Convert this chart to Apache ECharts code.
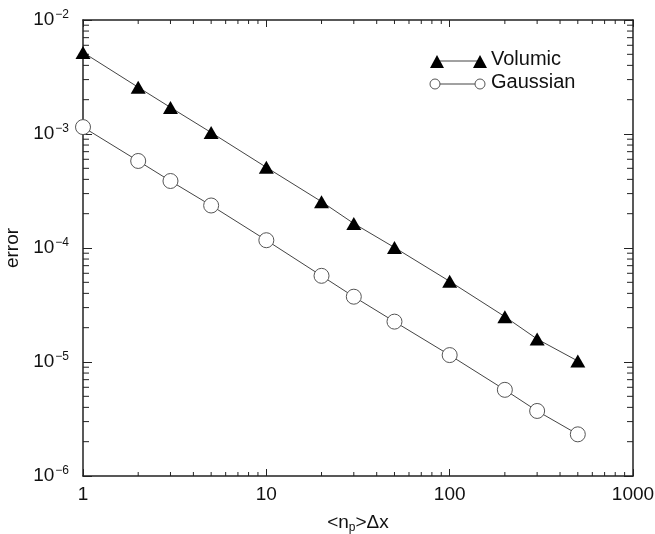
<!DOCTYPE html>
<html>
<head>
<meta charset="utf-8">
<style>
  html, body { margin: 0; padding: 0; background: #fff; }
  #chart { width: 655px; height: 534px; }
</style>
<script src="https://cdn.jsdelivr.net/npm/echarts@6/dist/echarts.min.js"></script>
</head>
<body>
<div id="chart"></div>
<script>
// Mean particle spacing, <n_p>Δx
const spacing = [1, 2, 3, 5, 10, 20, 30, 50, 100, 200, 300, 500];

// Error for each kernel
const volumic = [5.2e-3, 2.57e-3, 1.71e-3, 1.03e-3, 5.1e-4, 2.55e-4, 1.64e-4, 1.01e-4, 5.1e-5, 2.5e-5, 1.59e-5, 1.02e-5];
const gaussian = [1.15e-3, 5.8e-4, 3.87e-4, 2.36e-4, 1.17e-4, 5.7e-5, 3.74e-5, 2.26e-5, 1.15e-5, 5.7e-6, 3.72e-6, 2.32e-6];

// Axis ranges and tick values
const xRange = [1, 1000];
const yRange = [1e-6, 1e-2];
const xMinorTicks = [2, 3, 4, 5, 6, 7, 8, 9, 20, 30, 40, 50, 60, 70, 80, 90, 200, 300, 400, 500, 600, 700, 800, 900];
const yMinorTicks = [2e-6, 3e-6, 4e-6, 5e-6, 6e-6, 7e-6, 8e-6, 9e-6,
                     2e-5, 3e-5, 4e-5, 5e-5, 6e-5, 7e-5, 8e-5, 9e-5,
                     2e-4, 3e-4, 4e-4, 5e-4, 6e-4, 7e-4, 8e-4, 9e-4,
                     2e-3, 3e-3, 4e-3, 5e-3, 6e-3, 7e-3, 8e-3, 9e-3];

const seriesNames = ['Volumic', 'Gaussian'];
const FONT = '"Liberation Sans", Arial, Helvetica, sans-serif';
const INK = '#111';
const AXIS = '#222';
const LINE = '#444';

const chart = echarts.init(document.getElementById('chart'), null, { renderer: 'canvas' });

function pairs(xs, ys) { return xs.map((x, i) => [x, ys[i]]); }

function powLabel(v) {
  const e = Math.round(Math.log10(v));
  return '{b|10}{s|' + (e < 0 ? '\u2212' + (-e) : e) + '}';
}

function plainLabel(v) { return String(Math.round(v)); }

const axisLineStyle = { show: true, lineStyle: { color: AXIS, width: 1.5 } };

// Short inside ticks at the 2..9 positions of each decade, on all four sides
function minorTickRenderer(dir) {
  return function (params, api) {
    const v = api.value(0);
    const len = dir === 'x' ? 4 : 6;
    const style = { stroke: AXIS, lineWidth: 1 };
    if (dir === 'x') {
      const b = api.coord([v, yRange[0]]);
      const t = api.coord([v, yRange[1]]);
      return { type: 'group', children: [
        { type: 'line', shape: { x1: b[0], y1: b[1], x2: b[0], y2: b[1] - len }, style },
        { type: 'line', shape: { x1: t[0], y1: t[1], x2: t[0], y2: t[1] + len }, style }
      ]};
    }
    const l = api.coord([xRange[0], v]);
    const r = api.coord([xRange[1], v]);
    return { type: 'group', children: [
      { type: 'line', shape: { x1: l[0], y1: l[1], x2: l[0] + len, y2: l[1] }, style },
      { type: 'line', shape: { x1: r[0], y1: r[1], x2: r[0] - len, y2: r[1] }, style }
    ]};
  };
}

const option = {
  backgroundColor: '#fff',
  animation: false,
  grid: { left: 83, right: 22, top: 20, bottom: 58, containLabel: false, outerBoundsMode: 'none' },
  xAxis: [
    {
      type: 'log', logBase: 10, min: xRange[0], max: xRange[1],
      position: 'bottom',
      name: '{t|<n}{sub|p}{t|>\u0394x}',
      nameLocation: 'middle', nameGap: 36,
      nameTextStyle: {
        rich: {
          t: { fontFamily: FONT, fontSize: 19, color: INK },
          sub: { fontFamily: FONT, fontSize: 12, color: INK, padding: [10, 0, 0, 0] }
        }
      },
      axisLine: axisLineStyle,
      axisTick: { show: true, inside: true, length: 7, lineStyle: { color: AXIS, width: 1 } },
      axisLabel: { show: true, margin: 9, formatter: plainLabel, fontFamily: FONT, fontSize: 19, color: INK },
      splitLine: { show: false }
    },
    {
      type: 'log', logBase: 10, min: xRange[0], max: xRange[1],
      position: 'top',
      axisLine: axisLineStyle,
      axisTick: { show: true, inside: true, length: 7, lineStyle: { color: AXIS, width: 1 } },
      axisLabel: { show: false },
      splitLine: { show: false }
    }
  ],
  yAxis: [
    {
      type: 'log', logBase: 10, min: yRange[0], max: yRange[1],
      position: 'left',
      name: 'error',
      nameLocation: 'middle', nameGap: 57, nameRotate: 90,
      nameTextStyle: { fontFamily: FONT, fontSize: 19, color: INK },
      axisLine: axisLineStyle,
      axisTick: { show: true, inside: true, length: 9, lineStyle: { color: AXIS, width: 1 } },
      axisLabel: {
        show: true, margin: 14, formatter: powLabel,
        rich: {
          b: { fontFamily: FONT, fontSize: 19, color: INK, lineHeight: 22 },
          s: { fontFamily: FONT, fontSize: 12, color: INK, lineHeight: 22, padding: [0, 0, 11, 1] }
        }
      },
      splitLine: { show: false }
    },
    {
      type: 'log', logBase: 10, min: yRange[0], max: yRange[1],
      position: 'right',
      axisLine: axisLineStyle,
      axisTick: { show: true, inside: true, length: 9, lineStyle: { color: AXIS, width: 1 } },
      axisLabel: { show: false },
      splitLine: { show: false }
    }
  ],
  series: [
    {
      name: seriesNames[0], type: 'line',
      data: pairs(spacing, volumic),
      xAxisIndex: 0, yAxisIndex: 0,
      lineStyle: { color: LINE, width: 1 },
      symbol: 'triangle', symbolSize: [15, 13],
      itemStyle: { color: '#000', borderWidth: 0 },
      z: 3
    },
    {
      name: seriesNames[1], type: 'line',
      data: pairs(spacing, gaussian),
      xAxisIndex: 0, yAxisIndex: 0,
      lineStyle: { color: LINE, width: 1 },
      symbol: 'circle', symbolSize: 15,
      itemStyle: { color: '#fff', borderColor: '#555', borderWidth: 1 },
      z: 3
    },
    {
      type: 'custom', xAxisIndex: 0, yAxisIndex: 0,
      data: xMinorTicks.map(v => [v]),
      renderItem: minorTickRenderer('x'), silent: true, clip: false, z: 2
    },
    {
      type: 'custom', xAxisIndex: 0, yAxisIndex: 0,
      data: yMinorTicks.map(v => [v]),
      renderItem: minorTickRenderer('y'), silent: true, clip: false, z: 2
    }
  ],
  graphic: [
    // Key: line with a marker at each end, then the series name
    { type: 'line', shape: { x1: 437, y1: 61, x2: 480, y2: 61 }, style: { stroke: LINE, lineWidth: 1 } },
    { type: 'polygon', shape: { points: [[430, 68], [444, 68], [437, 55]] }, style: { fill: '#000' } },
    { type: 'polygon', shape: { points: [[473, 68], [487, 68], [480, 55]] }, style: { fill: '#000' } },
    { type: 'text', left: 491, top: 49, style: { text: seriesNames[0], fontFamily: FONT, fontSize: 20, fill: INK } },
    { type: 'line', shape: { x1: 437, y1: 84, x2: 480, y2: 84 }, style: { stroke: LINE, lineWidth: 1 } },
    { type: 'circle', shape: { cx: 435, cy: 84, r: 5 }, style: { fill: '#fff', stroke: '#555', lineWidth: 1 } },
    { type: 'circle', shape: { cx: 480, cy: 84, r: 5 }, style: { fill: '#fff', stroke: '#555', lineWidth: 1 } },
    { type: 'text', left: 491, top: 72, style: { text: seriesNames[1], fontFamily: FONT, fontSize: 20, fill: INK } }
  ]
};

chart.setOption(option);
</script>
</body>
</html>
